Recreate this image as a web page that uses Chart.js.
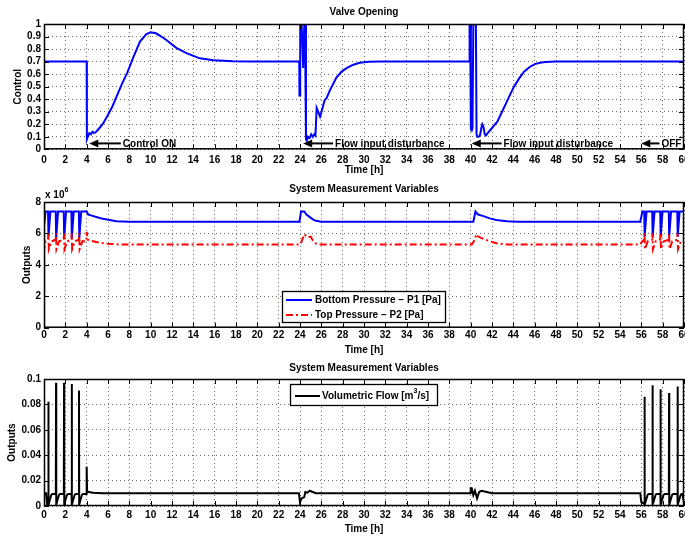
<!DOCTYPE html>
<html>
<head>
<meta charset="utf-8">
<script src="https://cdn.jsdelivr.net/npm/chart.js@4"></script>
<style>
html,body{margin:0;padding:0;background:#fff;}
#wrap{position:relative;width:685px;height:538px;overflow:hidden;}
.pane{position:absolute;left:0;width:685px;}
</style>
</head>
<body>
<div id="wrap">
  <div class="pane" style="top:0;height:180px"><canvas id="c1"></canvas></div>
  <div class="pane" style="top:180px;height:178px"><canvas id="c2"></canvas></div>
  <div class="pane" style="top:358px;height:180px"><canvas id="c3"></canvas></div>
</div>
<script>
// ===================== DATA (time in hours) =====================
// Valve opening / control signal
const ctrlT=[0,0,4,4.02,4.1,4.25,4.4,4.55,4.7,4.9,
  5.2,5.5,5.9,6.4,6.8,7.3,7.8,8.4,9.0,9.6,
  10.0,10.5,11.0,11.5,12.4,13.4,14.6,15.9,17.7,19.5,
  23.93,23.95,24.0,24.02,24.15,24.3,24.4,24.47,24.56,24.63,
  24.75,24.9,25.05,25.2,25.35,25.45,25.56,25.7,25.88,26.05,
  26.3,26.5,26.8,27.4,27.9,28.4,29.0,29.6,30.4,31.5,
  39.87,39.9,39.95,40.02,40.1,40.17,40.25,40.49,40.55,40.62,
  40.75,40.87,41.0,41.09,41.2,41.32,41.43,41.6,41.8,42.0,
  42.5,43.0,43.5,44.0,44.5,45.0,45.5,46.0,46.5,47.0,
  48.0,60];
const ctrlV=[0,0.7,0.7,0.08,0.1,0.13,0.12,0.14,0.13,0.14,
  0.17,0.2,0.26,0.34,0.42,0.52,0.61,0.74,0.86,0.92,
  0.934,0.926,0.9,0.87,0.81,0.766,0.726,0.71,0.703,0.7,
  0.7,0.43,0.43,1,1,0.65,1,1,0.08,0.07,
  0.1,0.09,0.12,0.1,0.12,0.11,0.33,0.3,0.26,0.31,
  0.39,0.41,0.47,0.57,0.62,0.65,0.675,0.69,0.698,0.7,
  0.7,1,1,0.16,0.15,0.17,1,1,0.12,0.1,
  0.1,0.11,0.17,0.2,0.18,0.12,0.11,0.13,0.15,0.17,
  0.22,0.31,0.4,0.49,0.56,0.62,0.655,0.68,0.69,0.697,
  0.7,0.7];

// Bottom pressure P1 (x 10^6 Pa)
const p1T=[0,0.01,0.15,0.38,0.42,0.6,
  1.1,1.14,1.32,1.85,1.89,2.07,
  2.57,2.61,2.79,3.27,3.31,3.49,
  4.0,4.15,4.4,4.9,5.4,5.9,6.8,8.0,
  23.95,24.1,24.4,24.6,24.8,25.2,25.5,26.0,
  40.25,40.45,40.55,40.7,41.2,41.8,42.4,43.4,44.5,
  55.9,56.1,56.27,56.31,56.49,57.02,57.06,57.24,
  57.77,57.81,57.99,58.57,58.61,58.79,59.37,59.41,59.59,60];
const p1V=[0,6.5,7.4,7.4,5.8,7.4,
  7.4,5.7,7.4,7.4,5.7,7.4,
  7.4,5.7,7.4,7.4,5.7,7.4,
  7.4,7.2,7.15,7.05,6.95,6.88,6.78,6.75,
  6.75,7.4,7.4,7.2,7.1,6.9,6.8,6.75,
  6.75,7.4,7.3,7.2,7.1,6.96,6.85,6.77,6.75,
  6.75,7.4,7.4,5.8,7.4,7.4,5.8,7.4,
  7.4,5.8,7.4,7.4,5.8,7.4,7.4,5.8,7.4,7.4];

// Top pressure P2 (x 10^6 Pa)
const p2T=[0,0.01,0.15,0.38,0.41,0.45,0.7,
  1.1,1.13,1.17,1.42,1.85,1.88,1.92,2.17,
  2.57,2.6,2.64,2.89,3.27,3.3,3.34,3.6,
  3.97,4.0,4.1,4.3,4.9,5.9,7.0,
  24.0,24.1,24.4,24.7,25.0,25.2,25.5,25.9,
  40.1,40.3,40.55,40.7,41.2,41.8,42.4,43.4,
  55.9,56.1,56.27,56.3,56.34,56.6,57.02,57.05,57.09,57.35,
  57.77,57.8,57.84,58.1,58.57,58.6,58.64,58.9,
  59.37,59.4,59.44,59.7,60];
const p2V=[0,5.0,5.5,5.6,6.0,5.0,5.5,
  5.6,6.0,5.0,5.5,5.6,6.0,5.0,5.5,
  5.6,6.0,5.0,5.5,5.6,6.0,5.0,5.5,
  5.5,6.1,5.6,5.55,5.45,5.35,5.3,
  5.3,5.4,5.95,5.75,5.8,5.55,5.35,5.3,
  5.3,5.5,5.95,5.8,5.65,5.5,5.38,5.3,
  5.3,5.5,5.6,6.0,5.0,5.5,5.6,6.0,5.0,5.5,
  5.6,6.0,5.0,5.5,5.6,6.0,5.0,5.5,
  5.6,6.0,5.0,5.5,5.5];

// Volumetric flow (m^3/s)
const flowT=[0,0.01,0.2,0.3,0.39,0.41,0.43,0.55,0.7,0.8,
  1.11,1.13,1.15,1.27,1.42,1.52,
  1.86,1.88,1.9,2.02,2.17,2.27,
  2.58,2.6,2.62,2.74,2.89,2.99,
  3.26,3.28,3.3,3.42,3.57,3.67,
  3.98,4.0,4.04,4.2,4.6,5.5,
  23.9,24.0,24.15,24.4,24.5,24.7,24.9,25.2,25.5,
  39.94,40.0,40.1,40.25,40.4,40.6,40.8,41.0,41.5,42.0,
  55.9,56.0,56.28,56.3,56.32,56.45,56.6,56.7,
  57.03,57.05,57.07,57.2,57.35,57.45,
  57.78,57.8,57.82,57.95,58.1,58.2,
  58.58,58.6,58.62,58.75,58.9,59.0,
  59.38,59.4,59.42,59.55,59.7,59.85,60];
const flowV=[0,0.01,0.01,0.001,0.002,0.082,0.001,0.005,0.009,0.0095,
  0.0095,0.097,0.001,0.005,0.009,0.0095,
  0.0095,0.097,0.001,0.005,0.009,0.0095,
  0.0095,0.096,0.001,0.005,0.009,0.0095,
  0.0095,0.091,0.001,0.005,0.009,0.0095,
  0.0095,0.031,0.012,0.011,0.0105,0.01,
  0.01,0.003,0.006,0.007,0.011,0.0105,0.012,0.011,0.01,
  0.01,0.014,0.014,0.0085,0.012,0.006,0.011,0.012,0.011,0.01,
  0.01,0.003,0.002,0.086,0.001,0.005,0.009,0.0095,
  0.0095,0.095,0.001,0.005,0.009,0.0095,
  0.0095,0.092,0.001,0.005,0.009,0.0095,
  0.0095,0.089,0.001,0.005,0.009,0.0095,
  0.0095,0.094,0.001,0.005,0.009,0.0095,0.003];

// arrow notes on the valve plot (head / tail in hours)
const notes=[
  {text:'Control ON',head:4.25,tail:7.2},
  {text:'Flow input disturbance',head:24.3,tail:27.1},
  {text:'Flow input disturbance',head:40.1,tail:42.9},
  {text:'OFF',head:56.0,tail:57.7}
];
const noteLevel=0.047;

// ===================== HELPERS =====================
const FONT="'Liberation Sans', Arial, Helvetica, sans-serif";
Chart.defaults.font.family=FONT;
Chart.defaults.font.size=10;
Chart.defaults.font.weight='bold';
Chart.defaults.color='#000';

const pts=(t,v)=>t.map((x,i)=>({x,y:v[i]}));
const GRID='#6a6a6a';
const TICK=5;

// text with "^n" superscripts
function richText(ctx,str,x,y){
  const parts=str.split(/(\^\d)/);
  let cx=x;
  parts.forEach(p=>{
    if(!p) return;
    if(p[0]==='^'){
      ctx.font='bold 7px '+FONT;
      ctx.fillText(p.slice(1),cx,y-5);
      cx+=ctx.measureText(p.slice(1)).width;
    }else{
      ctx.font='bold 10px '+FONT;
      ctx.fillText(p,cx,y);
      cx+=ctx.measureText(p).width;
    }
  });
}

const decor={
  id:'decor',
  afterDatasetsDraw(chart,args,o){
    const {ctx,chartArea:a,scales:{x,y}}=chart;
    ctx.save();
    // inner tick marks, all four sides
    ctx.strokeStyle='#000'; ctx.lineWidth=1;
    ctx.beginPath();
    x.ticks.forEach(t=>{
      const px=Math.round(x.getPixelForValue(t.value))+0.5;
      ctx.moveTo(px,a.top); ctx.lineTo(px,a.top+TICK);
      ctx.moveTo(px,a.bottom); ctx.lineTo(px,a.bottom-TICK);
    });
    y.ticks.forEach(t=>{
      const py=Math.round(y.getPixelForValue(t.value))+0.5;
      ctx.moveTo(a.left,py); ctx.lineTo(a.left+TICK,py);
      ctx.moveTo(a.right,py); ctx.lineTo(a.right-TICK,py);
    });
    ctx.stroke();
    ctx.lineWidth=1.5;
    ctx.strokeRect(a.left+0.5,a.top+0.5,a.right-a.left-1,a.bottom-a.top-1);

    ctx.fillStyle='#000'; ctx.textBaseline='middle';
    // heading
    ctx.font='bold 10px '+FONT; ctx.textAlign='center';
    ctx.fillText(o.title,(a.left+a.right)/2,o.titleY);
    ctx.textAlign='left';

    // exponent label
    if(o.exp) richText(ctx,o.exp.text,a.left+1,o.exp.y);

    // arrows
    if(o.notes){
      const py=y.getPixelForValue(noteLevel);
      o.notes.forEach(n=>{
        const hx=x.getPixelForValue(n.head), tx=x.getPixelForValue(n.tail);
        ctx.lineWidth=2; ctx.strokeStyle='#000';
        ctx.beginPath(); ctx.moveTo(hx+6,py); ctx.lineTo(tx,py); ctx.stroke();
        ctx.beginPath(); ctx.moveTo(hx,py); ctx.lineTo(hx+9,py-4); ctx.lineTo(hx+9,py+4); ctx.closePath(); ctx.fill();
        ctx.font='bold 10px '+FONT;
        ctx.fillText(n.text,tx+2,py+0.5);
      });
    }

    // legend box
    if(o.legend){
      const L=o.legend;
      ctx.fillStyle='#fff'; ctx.fillRect(L.x,L.y,L.w,L.h);
      ctx.strokeStyle='#000'; ctx.lineWidth=1.3;
      ctx.strokeRect(L.x+0.5,L.y+0.5,L.w,L.h);
      L.rows.forEach(r=>{
        ctx.strokeStyle=r.color; ctx.lineWidth=2; ctx.setLineDash(r.dash||[]);
        ctx.beginPath(); ctx.moveTo(L.x+L.lineFrom,r.y); ctx.lineTo(L.x+L.lineTo,r.y); ctx.stroke();
        ctx.setLineDash([]);
        ctx.fillStyle='#000';
        richText(ctx,r.text,L.x+L.textAt,r.y+0.5);
      });
    }
    ctx.restore();
  }
};

function xAxis(h,tickPad,titlePad){
  return {type:'linear',min:0,max:60,
    ticks:{stepSize:2,padding:tickPad,maxRotation:0,autoSkip:false},
    grid:{color:GRID,lineWidth:1,drawTicks:false},
    border:{display:false,dash:[1,3]},
    title:{display:true,text:'Time [h]',padding:{top:0,bottom:titlePad}},
    afterFit(s){s.height=h;s.paddingLeft=0;s.paddingRight=0;}
  };
}
function yAxis(min,max,step,title,titlePad,fmt){
  return {type:'linear',min,max,
    ticks:{stepSize:step,padding:3,autoSkip:false,callback:fmt},
    grid:{color:GRID,lineWidth:1,drawTicks:false},
    border:{display:false,dash:[1,3]},
    title:{display:true,text:title,padding:{top:titlePad,bottom:0}},
    afterFit(s){s.width=44;s.paddingTop=0;s.paddingBottom=0;}
  };
}
const baseOpts={responsive:true,maintainAspectRatio:false,animation:false,events:[]};
const line=(data,color,extra)=>Object.assign({data,showLine:true,borderColor:color,backgroundColor:color,
  borderWidth:2,pointRadius:0,tension:0,fill:false},extra||{});

// ===================== VALVE OPENING =====================
new Chart(document.getElementById('c1'),{
  type:'scatter',
  data:{datasets:[line(pts(ctrlT,ctrlV),'#0000ff')]},
  options:{...baseOpts,
    layout:{padding:{top:24,right:1,bottom:0,left:0}},
    scales:{x:xAxis(30.7,5,4),y:yAxis(0,1,0.1,'Control',12,v=>String(Math.round(v*10)/10))},
    plugins:{legend:{display:false},tooltip:{enabled:false},
      decor:{title:'Valve Opening',titleY:12,notes}}
  },
  plugins:[decor]
});

// ===================== PRESSURES =====================
new Chart(document.getElementById('c2'),{
  type:'scatter',
  data:{datasets:[
    line(pts(p1T,p1V),'#0000ff',{order:1}),
    line(pts(p2T,p2V),'#ff0000',{order:0,borderDash:[7,3,2,3]})
  ]},
  options:{...baseOpts,
    layout:{padding:{top:22,right:1,bottom:0,left:0}},
    scales:{x:xAxis(30.3,2,2),y:yAxis(0,8,2,'Outputs',21,v=>String(v))},
    plugins:{legend:{display:false},tooltip:{enabled:false},
      decor:{title:'System Measurement Variables',titleY:9.5,
        exp:{text:'x 10^6',y:15},
        legend:{x:282,y:111,w:163,h:31,lineFrom:4,lineTo:30,textAt:33,
          rows:[{text:'Bottom Pressure \u2212 P1 [Pa]',color:'#0000ff',y:120},
                {text:'Top Pressure \u2212 P2 [Pa]',color:'#ff0000',dash:[7,3,2,3],y:135}]}}}
  },
  plugins:[decor]
});

// ===================== FLOW =====================
new Chart(document.getElementById('c3'),{
  type:'scatter',
  data:{datasets:[line(pts(flowT,flowV),'#000000')]},
  options:{...baseOpts,
    layout:{padding:{top:21,right:1,bottom:0,left:0}},
    scales:{x:xAxis(32,3,3),y:yAxis(0,0.1,0.02,'Outputs',6,v=>String(Math.round(v*100)/100))},
    plugins:{legend:{display:false},tooltip:{enabled:false},
      decor:{title:'System Measurement Variables',titleY:10.5,
        legend:{x:290,y:26,w:147,h:21,lineFrom:5,lineTo:30,textAt:32,
          rows:[{text:'Volumetric Flow [m^3/s]',color:'#000000',y:38}]}}}
  },
  plugins:[decor]
});
</script>
</body>
</html>
